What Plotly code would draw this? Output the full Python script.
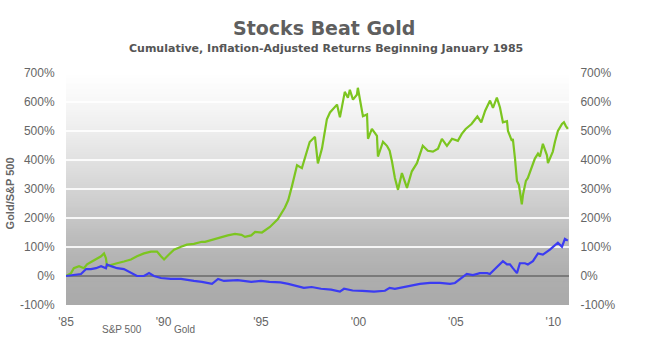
import plotly.graph_objects as go

sp_years = [1985.0, 1985.26, 1985.4, 1985.67, 1985.92, 1986.08, 1986.33, 1986.54, 1986.8, 1986.95,
            1987.05, 1987.1, 1987.36, 1987.62, 1987.97, 1988.33, 1988.64, 1989.0, 1989.36, 1989.67,
            1989.87, 1990.03, 1990.28, 1990.54, 1990.9, 1991.2, 1991.56, 1991.97, 1992.13, 1992.5,
            1992.9, 1993.3, 1993.67, 1994.0, 1994.18, 1994.5, 1994.7, 1995.05, 1995.46, 1995.87,
            1996.23, 1996.4, 1996.59, 1996.85, 1997.1, 1997.5, 1997.77, 1997.92, 1998.13, 1998.38,
            1998.54, 1998.9, 1999.05, 1999.3, 1999.46, 1999.56, 1999.72, 1999.92, 1999.97, 2000.08,
            2000.23, 2000.44, 2000.49, 2000.69, 2000.95, 2001.0, 2001.26, 2001.46, 2001.6, 2001.72,
            2001.87, 2002.03, 2002.23, 2002.49, 2002.74, 2003.0, 2003.15, 2003.3, 2003.56, 2003.82,
            2004.08, 2004.28, 2004.54, 2004.8, 2005.1, 2005.3, 2005.5, 2005.8, 2006.1, 2006.3,
            2006.5, 2006.75, 2006.9, 2007.1, 2007.26, 2007.41, 2007.62, 2007.67, 2007.87, 2007.92,
            2008.03, 2008.13, 2008.23, 2008.38, 2008.44, 2008.59, 2008.69, 2008.9, 2009.05, 2009.21,
            2009.31, 2009.46, 2009.67, 2009.72, 2009.82, 2009.97, 2010.08, 2010.23, 2010.44, 2010.54,
            2010.64, 2010.74]
sp_values = [0, 10, 27, 34, 27, 40, 50, 57, 68, 78,
             61, 34, 40, 44, 50, 57, 68, 78, 84, 84,
             68, 57, 74, 91, 101, 108, 111, 118, 118, 125,
             135, 140, 145, 142, 135, 140, 152, 150, 169, 196,
             236, 262, 310, 382, 372, 462, 480, 388, 440, 540,
             564, 591, 547, 635, 615, 642, 608, 625, 649, 608,
             551, 557, 473, 507, 483, 412, 463, 449, 432, 395,
             338, 297, 355, 304, 361, 389, 416, 449, 432, 429,
             439, 473, 449, 473, 466, 490, 507, 524, 550, 530,
             570, 605, 580, 615, 581, 530, 534, 500, 466, 473,
             405, 328, 314, 247, 280, 328, 338, 382, 405, 422,
             412, 456, 416, 389, 405, 429, 463, 500, 524, 530,
             517, 507]

gold_years = [1985.0, 1985.41, 1985.77, 1986.03, 1986.28, 1986.54, 1986.8, 1987.05, 1987.1, 1987.31,
              1987.62, 1987.97, 1988.33, 1988.64, 1989.0, 1989.26, 1989.51, 1989.87, 1990.38, 1990.9,
              1991.56, 1991.97, 1992.49, 1992.8, 1993.1, 1993.8, 1994.5, 1995.0, 1995.44, 1996.0,
              1996.4, 1997.2, 1997.6, 1998.08, 1998.6, 1999.05, 1999.26, 1999.7, 2000.2, 2000.8,
              2001.36, 2001.6, 2001.87, 2002.15, 2002.64, 2003.15, 2003.67, 2004.18, 2004.7, 2004.95,
              2005.2, 2005.56, 2005.87, 2006.23, 2006.6, 2006.74, 2007.0, 2007.15, 2007.41, 2007.62,
              2007.77, 2007.92, 2008.13, 2008.28, 2008.54, 2008.69, 2008.95, 2009.21, 2009.46, 2009.82,
              2010.08, 2010.23, 2010.44, 2010.59, 2010.74]
gold_values = [0, 3, 7, 24, 24, 27, 34, 27, 40, 34,
               27, 24, 10, 0, 0, 10, 0, -7, -10, -10,
               -17, -20, -27, -10, -17, -14, -20, -17, -20, -22,
               -27, -41, -38, -44, -47, -54, -44, -50, -51, -54,
               -51, -41, -44, -41, -34, -27, -24, -24, -27, -24,
               -10, 7, 3, 10, 10, 7, 24, 34, 51, 40,
               40, 27, 10, 44, 44, 40, 51, 78, 74, 91,
               108, 115, 101, 128, 122]

tick_years = [1985, 1990, 1995, 2000, 2005, 2010]
tick_labels = ["'85", "'90", "'95", "'00", "'05", "'10"]
y_ticks = [-100, 0, 100, 200, 300, 400, 500, 600, 700]
y_labels = ["-100%", "0%", "100%", "200%", "300%", "400%", "500%", "600%", "700%"]

# ---- styles ----
GREEN = "#7cc520"
BLUE = "#3b3bf2"
TXT = "#666666"
Y_MIN, Y_MAX = -100, 700
X_MIN, X_MAX = 1985.0, 2010.8
grad_stops = [(-100, 170), (0, 174), (100, 184), (200, 198), (300, 212),
              (400, 225), (500, 237), (600, 247), (700, 255)]


def gray_at(v):
    for (v0, g0), (v1, g1) in zip(grad_stops[:-1], grad_stops[1:]):
        if v0 <= v <= v1:
            g = g0 + (g1 - g0) * (v - v0) / (v1 - v0)
            g = int(round(g))
            return f"rgb({g},{g},{g})"
    return "rgb(255,255,255)"


fig = go.Figure()
fig.add_trace(go.Scatter(x=sp_years, y=sp_values, mode="lines", name="S&P 500",
                         line=dict(color=GREEN, width=2.2)))
fig.add_trace(go.Scatter(x=gold_years, y=gold_values, mode="lines", name="Gold",
                         line=dict(color=BLUE, width=2.2), yaxis="y2"))

# vertical gradient background: stacked rects, each reaching to the top,
# so that no white seams appear between bands
n = 100
step = (Y_MAX - Y_MIN) / n
shapes = []
for i in range(n):
    y0 = Y_MIN + i * step
    shapes.append(dict(type="rect", xref="paper", yref="y", x0=0, x1=1,
                       y0=y0, y1=Y_MAX, layer="below",
                       fillcolor=gray_at(y0 + step / 2), line=dict(width=0)))

axis_font = dict(family="Liberation Sans, Arial, sans-serif", size=12, color=TXT)
small_font = dict(family="Liberation Sans, Arial, sans-serif", size=10, color=TXT)

fig.update_layout(
    width=648, height=341,
    margin=dict(l=66, r=79, t=73, b=31),
    paper_bgcolor="white", plot_bgcolor="rgba(0,0,0,0)",
    showlegend=False,
    shapes=shapes,
    xaxis=dict(range=[X_MIN, X_MAX], tickvals=tick_years, ticktext=tick_labels,
               showgrid=False, zeroline=False, showline=False,
               ticks="outside", ticklen=6, tickcolor="rgba(0,0,0,0)",
               tickfont=axis_font),
    yaxis=dict(range=[Y_MIN, Y_MAX], tickvals=y_ticks, ticktext=y_labels,
               showgrid=True, gridcolor="rgba(255,255,255,0.85)", gridwidth=1.5,
               zeroline=True, zerolinecolor="#7a7a7a", zerolinewidth=1.5,
               showline=False, ticks="outside", ticklen=8,
               tickcolor="rgba(0,0,0,0)", tickfont=axis_font),
    yaxis2=dict(range=[Y_MIN, Y_MAX], tickvals=y_ticks, ticktext=y_labels,
                overlaying="y", side="right", showgrid=False, zeroline=False,
                showline=False, ticks="outside", ticklen=8,
                tickcolor="rgba(0,0,0,0)", tickfont=axis_font),
    annotations=[
        dict(text="<b>Stocks Beat Gold</b>", xref="paper", yref="paper",
             x=(324 - 66) / 503, y=(310 - 27) / 237, xanchor="center", yanchor="middle",
             showarrow=False,
             font=dict(family="DejaVu Sans, Verdana, sans-serif", size=19, color="#5f5f5f")),
        dict(text="<b>Cumulative, Inflation-Adjusted Returns Beginning January 1985</b>",
             xref="paper", yref="paper",
             x=(326 - 66) / 503, y=(310 - 48) / 237, xanchor="center", yanchor="middle",
             showarrow=False,
             font=dict(family="DejaVu Sans, Verdana, sans-serif", size=11, color="#555555")),
        dict(text="<b>Gold/S&P 500</b>", xref="paper", yref="paper",
             x=(10 - 66) / 503, y=(310 - 196) / 237, xanchor="center", yanchor="middle",
             textangle=-90, showarrow=False,
             font=dict(family="Liberation Sans, Arial, sans-serif", size=11, color=TXT)),
        dict(text="S&P 500", xref="paper", yref="paper",
             x=(100 - 66) / 503, y=(310 - 335) / 237, xanchor="left", yanchor="middle",
             showarrow=False, font=small_font),
        dict(text="Gold", xref="paper", yref="paper",
             x=(172 - 66) / 503, y=(310 - 335) / 237, xanchor="left", yanchor="middle",
             showarrow=False, font=small_font),
    ],
)

fig.write_html("out.html")
